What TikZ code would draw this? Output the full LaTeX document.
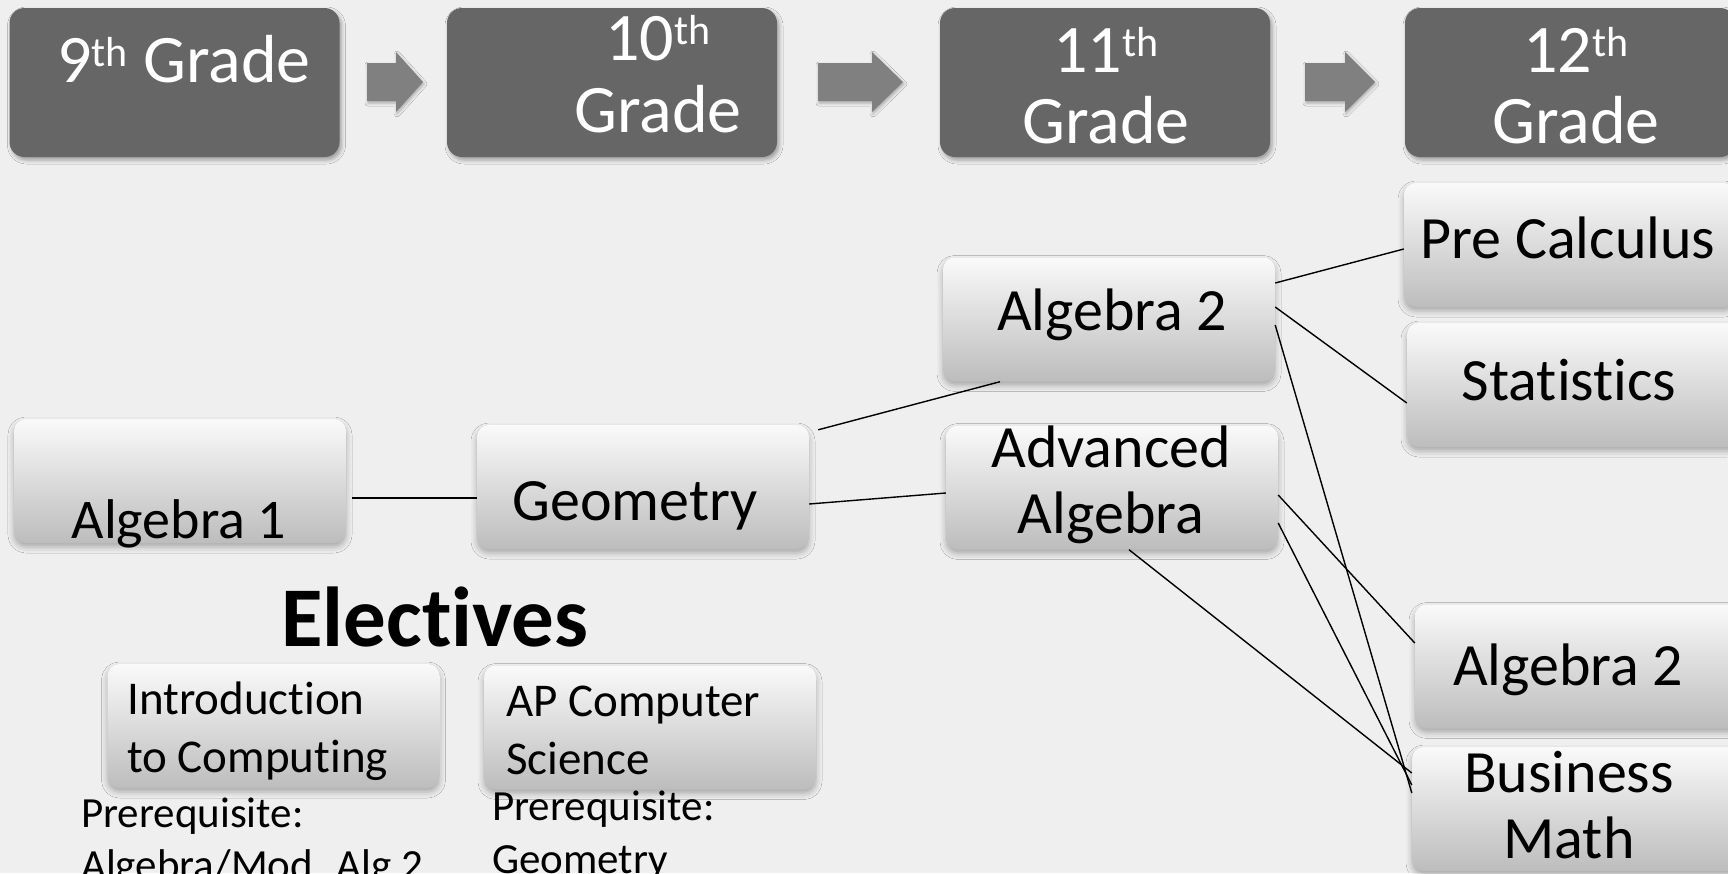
\documentclass[tikz,border=0pt]{standalone}
\usepackage{fontspec}
\setmainfont{Carlito}[RawFeature={-liga,-calt,-dlig,-clig}]
\usetikzlibrary{calc,shadows.blur}
\definecolor{bg}{HTML}{EFEFEF}
\definecolor{gradedark}{HTML}{666666}
\definecolor{arrowgray}{HTML}{808080}
\newcommand{\thsup}{\raisebox{16pt}{\fontsize{42}{42}\selectfont th}}
\begin{document}
\begin{tikzpicture}[x=1pt,y=-1pt,
  grade/.style={draw=none, fill=gradedark, rounded corners=15pt, minimum width=330pt, minimum height=149pt, inner sep=0pt,
    blur shadow={shadow xshift=2pt, shadow yshift=-3pt, shadow blur radius=4pt, shadow opacity=35}},
  course/.style={draw=none, rounded corners=12pt, minimum width=332pt, minimum height=124pt, inner sep=0pt,
    top color=black!2, bottom color=black!26,
    blur shadow={shadow xshift=0pt, shadow yshift=-4pt, shadow blur radius=6pt, shadow opacity=30}},
  gtxt/.style={anchor=base, inner sep=0pt, text=white, font=\fontsize{68}{72}\selectfont},
  ctxt/.style={anchor=base, inner sep=0pt, font=\fontsize{60}{66}\selectfont},
  etxt/.style={anchor=base west, inner sep=0pt, font=\fontsize{47}{52}\selectfont},
  ptxt/.style={anchor=base west, inner sep=0pt, font=\fontsize{43}{48}\selectfont},
  link/.style={line width=1.4pt, black},
  arr/.style={fill=arrowgray, blur shadow={shadow xshift=1pt, shadow yshift=-2pt, shadow blur radius=3pt, shadow opacity=30}}
]
\useasboundingbox (0,0) rectangle (1728,873);
\fill[bg] (0,0) rectangle (1728,873);
\clip (0,0) rectangle (1728,873);

% grade boxes
\node[grade] (g9)  at (174.5,82.5) {};
\node[grade] (g10) at (612,82.5) {};
\node[grade] (g11) at (1105,82.5) {};
\node[grade] (g12) at (1570,82.5) {};

\node[gtxt, anchor=base west] (t9) at (57,82) {9\thsup\ Grade};
\node[gtxt] (t10a) at (658,60) {10\thsup};
\node[gtxt] (t10b) at (658,132) {Grade};
\node[gtxt] (t11a) at (1106,72) {11\thsup};
\node[gtxt] (t11b) at (1106,143) {Grade};
\node[gtxt] (t12a) at (1576,72) {12\thsup};
\node[gtxt] (t12b) at (1576,143) {Grade};

% arrows
\path[arr] (367,63) -- (396,63) -- (396,52) -- (423,82) -- (396,112) -- (396,101) -- (367,101) -- cycle;
\path[arr] (818,63) -- (872,63) -- (872,52) -- (903,82) -- (872,112) -- (872,101) -- (818,101) -- cycle;
\path[arr] (1305,63) -- (1345,63) -- (1345,52) -- (1375,82) -- (1345,112) -- (1345,101) -- (1305,101) -- cycle;

% course boxes
\node[course] (alg1)  at (180,481) {};
\node[course] (geo)   at (643,487) {};
\node[course] (alg2a) at (1109,319.5) {};
\node[course] (adv)   at (1112,487.5) {};
\node[course] (pre)   at (1570,245) {};
\node[course] (stat)  at (1573,385) {};
\node[course] (alg2b) at (1581,666.5) {};
\node[course] (bm)    at (1578,809) {};
\node[course] (intro) at (273.5,726) {};
\node[course] (ap)    at (650,727.5) {};

% connectors
\draw[link] ($(alg1.east)+(6,17)$) -- ($(geo.west)+(0,11)$);
\draw[link] ($(geo.north east)+(9,5)$) -- ($(alg2a.south)+(-109,0)$);
\draw[link] ($(geo.east)+(0,17)$) -- ($(adv.west)+(0,5.5)$);
\draw[link] ($(alg2a.east)+(0,-36.5)$) -- ($(pre.west)+(0,4)$);
\draw[link] ($(alg2a.east)+(0,-12.5)$) -- ($(stat.west)+(0,18)$);
\draw[link] ($(alg2a.east)+(0,5.5)$) -- ($(bm.west)+(0,-16)$);
\draw[link] ($(adv.east)+(0,7.5)$) -- ($(alg2b.west)+(0,-23.5)$);
\draw[link] ($(adv.east)+(0,35.5)$) -- ($(bm.west)+(0,-24)$);
\draw[link] ($(adv.south)+(17,0)$) -- ($(bm.west)+(0,-36)$);

% course texts
\node[ctxt, font=\fontsize{56}{62}\selectfont] (talg1) at (179,538) {Algebra 1};
\node[ctxt] (tgeo) at (635,520) {Geometry};
\node[ctxt] (talg2a) at (1112,330) {Algebra 2};
\node[ctxt] (tadv1) at (1111,467) {Advanced};
\node[ctxt] (tadv2) at (1111,533) {Algebra};
\node[ctxt] (tpre) at (1568,258) {Pre Calculus};
\node[ctxt] (tstat) at (1569,400) {Statistics};
\node[ctxt] (talg2b) at (1568,685) {Algebra 2};
\node[ctxt] (tbm1) at (1569,792) {Business};
\node[ctxt] (tbm2) at (1569,858) {Math};

% electives
\node[anchor=base, inner sep=0pt, font=\bfseries\fontsize{85}{90}\selectfont] (elec) at (435,646) {Electives};
\node[etxt] (tin1) at (127,714) {Introduction};
\node[etxt] (tin2) at (127,772) {to Computing};
\node[etxt] (tap1) at (506,716) {AP Computer};
\node[etxt] (tap2) at (506,774) {Science};
\node[ptxt] (p1a) at (81,827) {Prerequisite:};
\node[ptxt] (p1b) at (81,879) {Algebra/Mod. Alg 2};
\node[ptxt] (p2a) at (492,820) {Prerequisite:};
\node[ptxt] (p2b) at (492,873) {Geometry};
\end{tikzpicture}
\end{document}
